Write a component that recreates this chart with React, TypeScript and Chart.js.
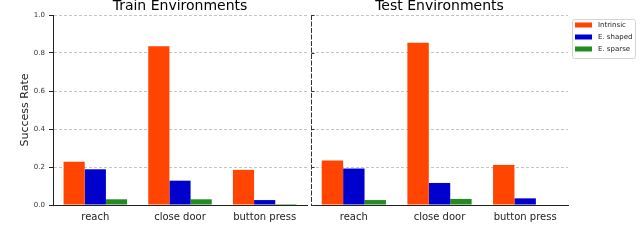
import React, { useEffect, useRef } from "react";
import { Chart, registerables } from "chart.js";

Chart.register(...registerables);

const categories = ["reach", "close door", "button press"];
const seriesNames = ["Intrinsic", "E. shaped", "E. sparse"];
const seriesColors = ["#FF4500", "#0000CD", "#228B22"];

const trainIntrinsic = [0.228, 0.835, 0.185];
const trainShaped = [0.188, 0.128, 0.026];
const trainSparse = [0.03, 0.03, 0.005];

const testIntrinsic = [0.234, 0.854, 0.211];
const testShaped = [0.192, 0.116, 0.035];
const testSparse = [0.026, 0.032, 0.0];

const yTicks = [0, 0.2, 0.4, 0.6, 0.8, 1.0];

const FONT = '"DejaVu Sans", sans-serif';

function makeDatasets(values: number[][]) {
  return values.map((v, i) => ({
    label: seriesNames[i],
    data: v,
    backgroundColor: seriesColors[i],
    borderWidth: 0,
    categoryPercentage: 0.75,
    barPercentage: 1.0,
  }));
}

function titlePlugin(text: string) {
  return {
    id: "panelTitle",
    afterDraw(chart: any) {
      const { ctx, chartArea } = chart;
      ctx.save();
      ctx.font = `14px ${FONT}`;
      ctx.fillStyle = "#000";
      ctx.textAlign = "center";
      ctx.textBaseline = "alphabetic";
      ctx.fillText(text, (chartArea.left + chartArea.right) / 2, 10);
      ctx.restore();
    },
  };
}

const rightAxisPlugin = {
  id: "rightAxis",
  afterDraw(chart: any) {
    const { ctx, chartArea } = chart;
    const y = chart.scales.y;
    const x0 = Math.round(chartArea.left) + 0.5;
    ctx.save();
    ctx.strokeStyle = "#333";
    ctx.lineWidth = 1;
    ctx.setLineDash([5, 1.5]);
    ctx.beginPath();
    ctx.moveTo(x0, chartArea.top);
    ctx.lineTo(x0, chartArea.bottom);
    ctx.stroke();
    ctx.setLineDash([]);
    yTicks.forEach((t) => {
      const py = Math.round(y.getPixelForValue(t)) + 0.5;
      ctx.beginPath();
      ctx.moveTo(x0, py);
      ctx.lineTo(x0 + 3, py);
      ctx.stroke();
    });
    ctx.restore();
  },
};

const legendPlugin = {
  id: "boxLegend",
  afterDraw(chart: any) {
    const { ctx, chartArea } = chart;
    const bx = chartArea.right + 4;
    const by = 19;
    const bw = 63;
    const bh = 39;
    ctx.save();
    ctx.fillStyle = "rgba(255,255,255,0.9)";
    ctx.strokeStyle = "#d4d4d4";
    ctx.lineWidth = 1;
    ctx.beginPath();
    if (ctx.roundRect) ctx.roundRect(bx + 0.5, by + 0.5, bw, bh, 2);
    else ctx.rect(bx + 0.5, by + 0.5, bw, bh);
    ctx.fill();
    ctx.stroke();
    ctx.font = `7px ${FONT}`;
    ctx.textAlign = "left";
    ctx.textBaseline = "middle";
    chart.data.datasets.forEach((ds: any, i: number) => {
      const cy = by + 6 + i * 12;
      ctx.fillStyle = ds.backgroundColor;
      ctx.fillRect(bx + 3, cy - 2.5, 17, 5);
      ctx.fillStyle = "#222";
      ctx.fillText(ds.label, bx + 26, cy + 0.5);
    });
    ctx.restore();
  },
};

function scalesFor(isLeft: boolean) {
  return {
    x: {
      type: "category" as const,
      grid: { display: false, drawTicks: false },
      border: { display: true, color: "#222", width: 1 },
      ticks: {
        padding: 6,
        color: "#222",
        font: { family: FONT, size: 10 },
        maxRotation: 0,
      },
      afterFit(scale: any) {
        scale.height = 41;
      },
    },
    y: {
      min: 0,
      max: 1,
      afterBuildTicks(scale: any) {
        scale.ticks = yTicks.map((v) => ({ value: v }));
      },
      grid: {
        display: true,
        color: "#c4c4c4",
        lineWidth: 1,
        drawTicks: isLeft,
        tickLength: 4,
        tickColor: "#222",
        tickBorderDash: [],
      },
      border: { display: isLeft, color: "#222", width: 1, dash: [3, 2] },
      ticks: {
        display: isLeft,
        padding: 4,
        color: "#333",
        font: { family: FONT, size: 7 },
        callback: (v: any) => Number(v).toFixed(1),
      },
      title: {
        display: isLeft,
        text: "Success Rate",
        color: "#222",
        font: { family: FONT, size: 11 },
        padding: { top: 4, bottom: 4 },
      },
      afterFit(scale: any) {
        scale.width = isLeft ? 38 : 11;
      },
    },
  };
}

function Panel(props: {
  left: number;
  width: number;
  isLeft: boolean;
  title: string;
  values: number[][];
}) {
  const ref = useRef<HTMLCanvasElement | null>(null);
  useEffect(() => {
    if (!ref.current) return;
    const plugins: any[] = [titlePlugin(props.title)];
    if (!props.isLeft) {
      plugins.push(rightAxisPlugin);
      plugins.push(legendPlugin);
    }
    const chart = new Chart(ref.current, {
      type: "bar",
      data: { labels: categories, datasets: makeDatasets(props.values) },
      options: {
        responsive: false,
        animation: false,
        devicePixelRatio: 1,
        layout: {
          padding: props.isLeft
            ? { left: 15, top: 15, right: 13, bottom: 0 }
            : { left: 0, top: 15, right: 72, bottom: 0 },
        },
        plugins: {
          legend: { display: false },
          tooltip: { enabled: false },
          title: { display: false },
        },
        scales: scalesFor(props.isLeft) as any,
      },
      plugins,
    });
    return () => chart.destroy();
  }, []);
  return (
    <canvas
      ref={ref}
      width={props.width}
      height={246}
      style={{
        position: "absolute",
        left: props.left,
        top: 0,
        width: props.width,
        height: 246,
      }}
    />
  );
}

export default function App() {
  return (
    <div
      style={{
        position: "absolute",
        left: 0,
        top: 0,
        width: 640,
        height: 246,
        background: "#fff",
        overflow: "hidden",
      }}
    >
      <Panel
        left={0}
        width={320}
        isLeft={true}
        title="Train Environments"
        values={[trainIntrinsic, trainShaped, trainSparse]}
      />
      <Panel
        left={300}
        width={340}
        isLeft={false}
        title="Test Environments"
        values={[testIntrinsic, testShaped, testSparse]}
      />
    </div>
  );
}
